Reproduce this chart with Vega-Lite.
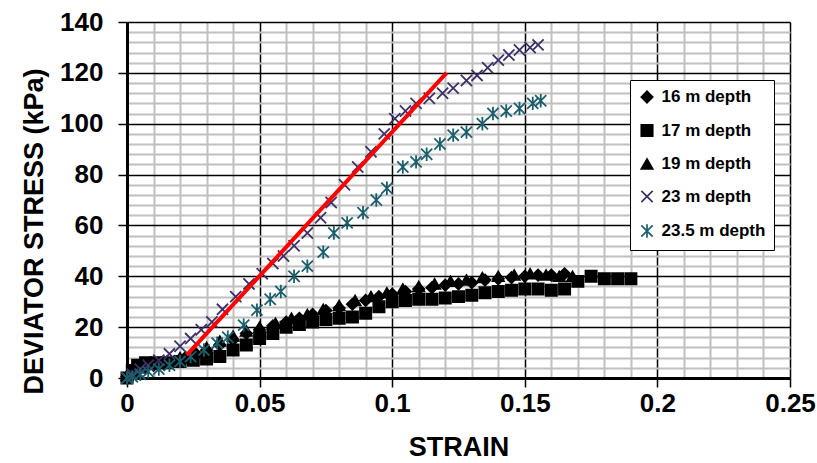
{
  "$schema": "https://vega.github.io/schema/vega-lite/v6.json",
  "width": 663,
  "height": 356,
  "autosize": "none",
  "padding": {"left": 127, "top": 22, "right": 27, "bottom": 85},
  "background": "white",
  "config": {"view": {"stroke": null}, "font": "Liberation Sans"},
  "datasets": {
    "pts": [
      {"series": "16 m depth", "strain": 0, "stress": 0.5},
      {"series": "16 m depth", "strain": 0.002, "stress": 2},
      {"series": "16 m depth", "strain": 0.004, "stress": 3.5},
      {"series": "16 m depth", "strain": 0.007, "stress": 4.5},
      {"series": "16 m depth", "strain": 0.01, "stress": 5},
      {"series": "16 m depth", "strain": 0.014, "stress": 5.5},
      {"series": "16 m depth", "strain": 0.018, "stress": 6.5},
      {"series": "16 m depth", "strain": 0.022, "stress": 8},
      {"series": "16 m depth", "strain": 0.026, "stress": 9.5},
      {"series": "16 m depth", "strain": 0.03, "stress": 11},
      {"series": "16 m depth", "strain": 0.035, "stress": 13},
      {"series": "16 m depth", "strain": 0.04, "stress": 15},
      {"series": "16 m depth", "strain": 0.045, "stress": 17.5},
      {"series": "16 m depth", "strain": 0.05, "stress": 19},
      {"series": "16 m depth", "strain": 0.055, "stress": 20.5},
      {"series": "16 m depth", "strain": 0.06, "stress": 22},
      {"series": "16 m depth", "strain": 0.065, "stress": 23.5},
      {"series": "16 m depth", "strain": 0.07, "stress": 25},
      {"series": "16 m depth", "strain": 0.075, "stress": 26.5},
      {"series": "16 m depth", "strain": 0.08, "stress": 27.5},
      {"series": "16 m depth", "strain": 0.085, "stress": 29},
      {"series": "16 m depth", "strain": 0.09, "stress": 30.5},
      {"series": "16 m depth", "strain": 0.095, "stress": 32},
      {"series": "16 m depth", "strain": 0.1, "stress": 33},
      {"series": "16 m depth", "strain": 0.105, "stress": 34},
      {"series": "16 m depth", "strain": 0.11, "stress": 35},
      {"series": "16 m depth", "strain": 0.115, "stress": 35.5},
      {"series": "16 m depth", "strain": 0.12, "stress": 36.5},
      {"series": "16 m depth", "strain": 0.125, "stress": 37},
      {"series": "16 m depth", "strain": 0.13, "stress": 37.5},
      {"series": "16 m depth", "strain": 0.135, "stress": 38.5},
      {"series": "16 m depth", "strain": 0.14, "stress": 39},
      {"series": "16 m depth", "strain": 0.145, "stress": 39.5},
      {"series": "16 m depth", "strain": 0.15, "stress": 40},
      {"series": "16 m depth", "strain": 0.155, "stress": 40.5},
      {"series": "16 m depth", "strain": 0.16, "stress": 40.5},
      {"series": "16 m depth", "strain": 0.165, "stress": 41},
      {"series": "17 m depth", "strain": 0, "stress": 0},
      {"series": "17 m depth", "strain": 0.002, "stress": 3},
      {"series": "17 m depth", "strain": 0.004, "stress": 5},
      {"series": "17 m depth", "strain": 0.007, "stress": 6},
      {"series": "17 m depth", "strain": 0.011, "stress": 6},
      {"series": "17 m depth", "strain": 0.015, "stress": 6},
      {"series": "17 m depth", "strain": 0.02, "stress": 6.5},
      {"series": "17 m depth", "strain": 0.025, "stress": 7},
      {"series": "17 m depth", "strain": 0.03, "stress": 7.5},
      {"series": "17 m depth", "strain": 0.035, "stress": 8.5},
      {"series": "17 m depth", "strain": 0.04, "stress": 11},
      {"series": "17 m depth", "strain": 0.045, "stress": 13},
      {"series": "17 m depth", "strain": 0.05, "stress": 15.5},
      {"series": "17 m depth", "strain": 0.055, "stress": 17.5},
      {"series": "17 m depth", "strain": 0.06, "stress": 20},
      {"series": "17 m depth", "strain": 0.065, "stress": 21},
      {"series": "17 m depth", "strain": 0.07, "stress": 22},
      {"series": "17 m depth", "strain": 0.075, "stress": 23},
      {"series": "17 m depth", "strain": 0.08, "stress": 23.5},
      {"series": "17 m depth", "strain": 0.085, "stress": 24},
      {"series": "17 m depth", "strain": 0.09, "stress": 25.5},
      {"series": "17 m depth", "strain": 0.095, "stress": 28},
      {"series": "17 m depth", "strain": 0.1, "stress": 30},
      {"series": "17 m depth", "strain": 0.105, "stress": 30.5},
      {"series": "17 m depth", "strain": 0.11, "stress": 31},
      {"series": "17 m depth", "strain": 0.115, "stress": 31},
      {"series": "17 m depth", "strain": 0.12, "stress": 31.5},
      {"series": "17 m depth", "strain": 0.125, "stress": 32},
      {"series": "17 m depth", "strain": 0.13, "stress": 32.5},
      {"series": "17 m depth", "strain": 0.135, "stress": 33.5},
      {"series": "17 m depth", "strain": 0.14, "stress": 34},
      {"series": "17 m depth", "strain": 0.145, "stress": 34.5},
      {"series": "17 m depth", "strain": 0.15, "stress": 35},
      {"series": "17 m depth", "strain": 0.155, "stress": 35},
      {"series": "17 m depth", "strain": 0.16, "stress": 34.5},
      {"series": "17 m depth", "strain": 0.165, "stress": 35},
      {"series": "17 m depth", "strain": 0.17, "stress": 38},
      {"series": "17 m depth", "strain": 0.175, "stress": 40},
      {"series": "17 m depth", "strain": 0.18, "stress": 39},
      {"series": "17 m depth", "strain": 0.185, "stress": 39},
      {"series": "17 m depth", "strain": 0.19, "stress": 39},
      {"series": "19 m depth", "strain": 0, "stress": 1},
      {"series": "19 m depth", "strain": 0.003, "stress": 2.5},
      {"series": "19 m depth", "strain": 0.006, "stress": 4},
      {"series": "19 m depth", "strain": 0.01, "stress": 5.5},
      {"series": "19 m depth", "strain": 0.015, "stress": 6.5},
      {"series": "19 m depth", "strain": 0.02, "stress": 8},
      {"series": "19 m depth", "strain": 0.025, "stress": 10},
      {"series": "19 m depth", "strain": 0.03, "stress": 12},
      {"series": "19 m depth", "strain": 0.035, "stress": 14.5},
      {"series": "19 m depth", "strain": 0.04, "stress": 16.5},
      {"series": "19 m depth", "strain": 0.045, "stress": 18.5},
      {"series": "19 m depth", "strain": 0.05, "stress": 20},
      {"series": "19 m depth", "strain": 0.056, "stress": 21.5},
      {"series": "19 m depth", "strain": 0.062, "stress": 23.5},
      {"series": "19 m depth", "strain": 0.068, "stress": 25},
      {"series": "19 m depth", "strain": 0.074, "stress": 27},
      {"series": "19 m depth", "strain": 0.08, "stress": 28.5},
      {"series": "19 m depth", "strain": 0.086, "stress": 30.5},
      {"series": "19 m depth", "strain": 0.092, "stress": 32},
      {"series": "19 m depth", "strain": 0.098, "stress": 33.5},
      {"series": "19 m depth", "strain": 0.104, "stress": 35},
      {"series": "19 m depth", "strain": 0.11, "stress": 36},
      {"series": "19 m depth", "strain": 0.116, "stress": 37},
      {"series": "19 m depth", "strain": 0.122, "stress": 38},
      {"series": "19 m depth", "strain": 0.128, "stress": 38.5},
      {"series": "19 m depth", "strain": 0.134, "stress": 39.5},
      {"series": "19 m depth", "strain": 0.14, "stress": 40},
      {"series": "19 m depth", "strain": 0.146, "stress": 40.5},
      {"series": "19 m depth", "strain": 0.152, "stress": 41},
      {"series": "19 m depth", "strain": 0.158, "stress": 40.5},
      {"series": "19 m depth", "strain": 0.163, "stress": 40},
      {"series": "19 m depth", "strain": 0.168, "stress": 40},
      {"series": "23 m depth", "strain": 0, "stress": 0},
      {"series": "23 m depth", "strain": 0.002, "stress": 1.5},
      {"series": "23 m depth", "strain": 0.005, "stress": 3.5},
      {"series": "23 m depth", "strain": 0.008, "stress": 5},
      {"series": "23 m depth", "strain": 0.012, "stress": 7},
      {"series": "23 m depth", "strain": 0.016, "stress": 9.5},
      {"series": "23 m depth", "strain": 0.02, "stress": 12.5},
      {"series": "23 m depth", "strain": 0.024, "stress": 15.5},
      {"series": "23 m depth", "strain": 0.028, "stress": 19},
      {"series": "23 m depth", "strain": 0.032, "stress": 22},
      {"series": "23 m depth", "strain": 0.036, "stress": 27},
      {"series": "23 m depth", "strain": 0.041, "stress": 32},
      {"series": "23 m depth", "strain": 0.046, "stress": 37},
      {"series": "23 m depth", "strain": 0.051, "stress": 41},
      {"series": "23 m depth", "strain": 0.055, "stress": 45},
      {"series": "23 m depth", "strain": 0.059, "stress": 48},
      {"series": "23 m depth", "strain": 0.063, "stress": 52},
      {"series": "23 m depth", "strain": 0.068, "stress": 57},
      {"series": "23 m depth", "strain": 0.073, "stress": 63},
      {"series": "23 m depth", "strain": 0.077, "stress": 69},
      {"series": "23 m depth", "strain": 0.082, "stress": 76},
      {"series": "23 m depth", "strain": 0.087, "stress": 83},
      {"series": "23 m depth", "strain": 0.092, "stress": 89},
      {"series": "23 m depth", "strain": 0.097, "stress": 96},
      {"series": "23 m depth", "strain": 0.101, "stress": 102},
      {"series": "23 m depth", "strain": 0.105, "stress": 105},
      {"series": "23 m depth", "strain": 0.109, "stress": 108},
      {"series": "23 m depth", "strain": 0.114, "stress": 110},
      {"series": "23 m depth", "strain": 0.119, "stress": 112},
      {"series": "23 m depth", "strain": 0.123, "stress": 114},
      {"series": "23 m depth", "strain": 0.128, "stress": 117},
      {"series": "23 m depth", "strain": 0.132, "stress": 119},
      {"series": "23 m depth", "strain": 0.136, "stress": 122},
      {"series": "23 m depth", "strain": 0.14, "stress": 125},
      {"series": "23 m depth", "strain": 0.144, "stress": 127},
      {"series": "23 m depth", "strain": 0.148, "stress": 129},
      {"series": "23 m depth", "strain": 0.152, "stress": 130},
      {"series": "23 m depth", "strain": 0.155, "stress": 131},
      {"series": "23.5 m depth", "strain": 0, "stress": 0},
      {"series": "23.5 m depth", "strain": 0.002, "stress": 0.5},
      {"series": "23.5 m depth", "strain": 0.005, "stress": 1.5},
      {"series": "23.5 m depth", "strain": 0.008, "stress": 2.5},
      {"series": "23.5 m depth", "strain": 0.012, "stress": 3.5},
      {"series": "23.5 m depth", "strain": 0.016, "stress": 5},
      {"series": "23.5 m depth", "strain": 0.02, "stress": 6.5},
      {"series": "23.5 m depth", "strain": 0.024, "stress": 8.4},
      {"series": "23.5 m depth", "strain": 0.029, "stress": 11},
      {"series": "23.5 m depth", "strain": 0.034, "stress": 13.7},
      {"series": "23.5 m depth", "strain": 0.038, "stress": 16},
      {"series": "23.5 m depth", "strain": 0.044, "stress": 20.8},
      {"series": "23.5 m depth", "strain": 0.049, "stress": 26.7},
      {"series": "23.5 m depth", "strain": 0.054, "stress": 31},
      {"series": "23.5 m depth", "strain": 0.058, "stress": 34},
      {"series": "23.5 m depth", "strain": 0.063, "stress": 40},
      {"series": "23.5 m depth", "strain": 0.068, "stress": 44},
      {"series": "23.5 m depth", "strain": 0.074, "stress": 49.5},
      {"series": "23.5 m depth", "strain": 0.078, "stress": 57},
      {"series": "23.5 m depth", "strain": 0.083, "stress": 61},
      {"series": "23.5 m depth", "strain": 0.089, "stress": 65},
      {"series": "23.5 m depth", "strain": 0.094, "stress": 70},
      {"series": "23.5 m depth", "strain": 0.098, "stress": 74.6},
      {"series": "23.5 m depth", "strain": 0.104, "stress": 83},
      {"series": "23.5 m depth", "strain": 0.109, "stress": 85},
      {"series": "23.5 m depth", "strain": 0.113, "stress": 88},
      {"series": "23.5 m depth", "strain": 0.118, "stress": 92},
      {"series": "23.5 m depth", "strain": 0.123, "stress": 95.5},
      {"series": "23.5 m depth", "strain": 0.128, "stress": 96.7},
      {"series": "23.5 m depth", "strain": 0.134, "stress": 100},
      {"series": "23.5 m depth", "strain": 0.138, "stress": 104},
      {"series": "23.5 m depth", "strain": 0.143, "stress": 105},
      {"series": "23.5 m depth", "strain": 0.148, "stress": 106},
      {"series": "23.5 m depth", "strain": 0.153, "stress": 108},
      {"series": "23.5 m depth", "strain": 0.156, "stress": 109}
    ],
    "fit": [
      {"strain": 0.0225, "stress": 9},
      {"strain": 0.1205, "stress": 120}
    ]
  },
  "encoding": {
    "x": {
      "field": "strain", "type": "quantitative",
      "scale": {"domain": [0, 0.25], "nice": false, "zero": true},
      "axis": {
        "values": [0, 0.01, 0.02, 0.03, 0.04, 0.05, 0.06, 0.07, 0.08, 0.09, 0.1, 0.11, 0.12, 0.13, 0.14, 0.15, 0.16, 0.17, 0.18, 0.19, 0.2, 0.21, 0.22, 0.23, 0.24, 0.25],
        "title": "STRAIN",
        "titleFont": "Liberation Sans", "titleFontSize": 27, "titleFontWeight": "bold", "titleColor": "black",
        "titleBaseline": "alphabetic", "titleY": 77,
        "labelExpr": "round(datum.value*100)%5===0 ? format(datum.value,'~g') : ''",
        "labelFont": "Liberation Sans", "labelFontSize": 26, "labelFontWeight": "bold", "labelColor": "black",
        "labelPadding": 3, "labelFlush": false, "labelOverlap": false,
        "domainColor": "black", "domainWidth": 3,
        "grid": true,
        "gridColor": {"condition": {"test": "round(datum.value*100)%5===0", "value": "black"}, "value": "#c0c0c0"},
        "gridWidth": {"condition": {"test": "round(datum.value*100)%5===0", "value": 1.5}, "value": 2},
        "gridOpacity": 1,
        "ticks": true, "tickSize": 9, "tickColor": "black", "tickWidth": 1.5,
        "tickOpacity": {"condition": {"test": "round(datum.value*100)%5===0", "value": 1}, "value": 0}
      }
    },
    "y": {
      "field": "stress", "type": "quantitative",
      "scale": {"domain": [0, 140], "nice": false},
      "axis": {
        "values": [0, 4, 8, 12, 16, 20, 24, 28, 32, 36, 40, 44, 48, 52, 56, 60, 64, 68, 72, 76, 80, 84, 88, 92, 96, 100, 104, 108, 112, 116, 120, 124, 128, 132, 136, 140],
        "title": "DEVIATOR STRESS (kPa)",
        "titleFont": "Liberation Sans", "titleFontSize": 27, "titleFontWeight": "bold", "titleColor": "black",
        "titleAngle": -90, "titleAlign": "center", "titleBaseline": "alphabetic",
        "titleX": -85, "titleY": 209,
        "labelExpr": "datum.value%20===0 ? datum.label : ''",
        "labelFont": "Liberation Sans", "labelFontSize": 26, "labelFontWeight": "bold", "labelColor": "black",
        "labelPadding": 15, "labelFlush": false, "labelOverlap": false,
        "domainColor": "black", "domainWidth": 3,
        "grid": true,
        "gridColor": {"condition": {"test": "datum.value%20===0", "value": "black"}, "value": "#c0c0c0"},
        "gridWidth": {"condition": {"test": "datum.value%20===0", "value": 1.5}, "value": 2},
        "gridOpacity": 1,
        "ticks": true, "tickSize": 9, "tickColor": "black", "tickWidth": 1.5,
        "tickOpacity": {"condition": {"test": "datum.value%20===0", "value": 1}, "value": 0}
      }
    }
  },
  "layer": [
    {
      "data": {"name": "pts"},
      "mark": {"type": "point", "filled": true, "strokeWidth": 1.8, "opacity": 1, "size": 125},
      "encoding": {
        "shape": {
          "field": "series", "type": "nominal",
          "scale": {
            "domain": ["16 m depth", "17 m depth", "19 m depth", "23 m depth", "23.5 m depth"],
            "range": ["diamond", "square", "triangle-up", "M-1,-1L1,1M-1,1L1,-1", "M-1,-1L1,1M-1,1L1,-1M0,-1.2L0,1.2"]
          },
          "legend": {
            "title": null, "orient": "none", "legendX": 503, "legendY": 58,
            "padding": 8.5, "strokeColor": "black", "fillColor": "white",
            "labelFont": "Liberation Sans", "labelFontSize": 17, "labelFontWeight": "bold", "labelColor": "black",
            "symbolSize": 130, "symbolStrokeWidth": 1.7, "rowPadding": 14.5, "labelOffset": 6
          }
        },
        "fill": {
          "field": "series", "type": "nominal",
          "scale": {
            "domain": ["16 m depth", "17 m depth", "19 m depth", "23 m depth", "23.5 m depth"],
            "range": ["black", "black", "black", "#3e2f66", "#1b5f6d"]
          },
          "legend": {
            "title": null, "orient": "none", "legendX": 503, "legendY": 58,
            "padding": 8.5, "strokeColor": "black", "fillColor": "white",
            "labelFont": "Liberation Sans", "labelFontSize": 17, "labelFontWeight": "bold", "labelColor": "black",
            "symbolSize": 130, "symbolStrokeWidth": 1.7, "rowPadding": 14.5, "labelOffset": 6
          }
        },
        "stroke": {
          "field": "series", "type": "nominal",
          "scale": {
            "domain": ["16 m depth", "17 m depth", "19 m depth", "23 m depth", "23.5 m depth"],
            "range": ["black", "black", "black", "#3e2f66", "#1b5f6d"]
          },
          "legend": {
            "title": null, "orient": "none", "legendX": 503, "legendY": 58,
            "padding": 8.5, "strokeColor": "black", "fillColor": "white",
            "labelFont": "Liberation Sans", "labelFontSize": 17, "labelFontWeight": "bold", "labelColor": "black",
            "symbolSize": 130, "symbolStrokeWidth": 1.7, "rowPadding": 14.5, "labelOffset": 6
          }
        }
      }
    },
    {
      "data": {"name": "fit"},
      "mark": {"type": "line", "color": "#ff0000", "strokeWidth": 4}
    }
  ]
}
